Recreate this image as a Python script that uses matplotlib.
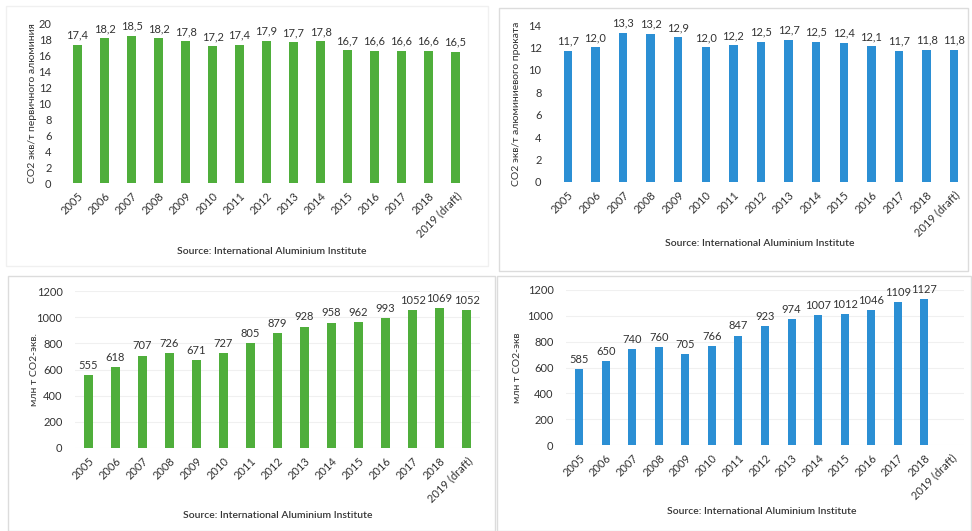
import matplotlib
matplotlib.use("Agg")
import matplotlib.pyplot as plt
from matplotlib.patches import Rectangle

plt.rcParams['font.family'] = ['Lato', 'DejaVu Sans']

years = ['2005', '2006', '2007', '2008', '2009', '2010', '2011', '2012',
         '2013', '2014', '2015', '2016', '2017', '2018', '2019 (draft)']

primary_int = [17.4, 18.2, 18.5, 18.2, 17.8, 17.2, 17.4, 17.9, 17.7, 17.8,
               16.7, 16.6, 16.6, 16.6, 16.5]
rolled_int = [11.7, 12.0, 13.3, 13.2, 12.9, 12.0, 12.2, 12.5, 12.7, 12.5,
              12.4, 12.1, 11.7, 11.8, 11.8]
primary_tot = [555, 618, 707, 726, 671, 727, 805, 879, 928, 958, 962, 993,
               1052, 1069, 1052]
rolled_tot = [585, 650, 740, 760, 705, 766, 847, 923, 974, 1007, 1012, 1046,
              1109, 1127]

green = '#4fae3b'
blue = '#2b8fd4'
source = 'Source: International Aluminium Institute'

W, H = 972, 531
fig = plt.figure(figsize=(W / 100, H / 100), dpi=100)

# panel frames (pixel coords: x0, y0, x1, y1 from top-left)
for (x0, y0, x1, y1), ec in [((6, 6, 488, 266), '#f0f0f0'),
                             ((499, 8, 968, 271), '#dcdcdc'),
                             ((8, 276, 495, 531), '#dcdcdc'),
                             ((497, 276, 971, 531), '#dcdcdc')]:
    fig.patches.append(Rectangle((x0 / W, 1 - y1 / H), (x1 - x0) / W,
                                 (y1 - y0) / H, transform=fig.transFigure,
                                 fill=False, edgecolor=ec, lw=1.0))


def panel(left, right, y0, ytop, vals, ymax, step, color, ylabel, fmt,
          grid, ylab_x, src_x, src_y):
    ax = fig.add_axes([left / W, 1 - y0 / H, (right - left) / W, (y0 - ytop) / H])
    x = list(range(len(vals)))
    ax.bar(x, vals, width=0.3, color=color)
    ax.set_xlim(-0.5, len(years) - 0.5)
    ax.set_ylim(0, ymax)
    ax.set_yticks(range(0, int(ymax) + 1, step))
    ax.set_xticks(range(len(years)))
    ax.set_xticklabels(years, rotation=45, ha='right', rotation_mode='anchor')
    ax.tick_params(length=0, labelsize=8, colors='#333333', pad=5)
    ax.tick_params(axis='y', pad=9)
    for s in ax.spines.values():
        s.set_visible(False)
    if grid:
        ax.grid(axis='y', color='#f0f0f0', lw=0.8)
        ax.set_axisbelow(True)
    for xi, v in zip(x, vals):
        ax.annotate(fmt(v), (xi, v), xytext=(0, 3), textcoords='offset points',
                    ha='center', va='bottom', fontsize=8, color='#333333')
    fig.text(ylab_x / W, 1 - (y0 + ytop) / 2 / H, ylabel, rotation=90,
             ha='center', va='center', fontsize=7.5, color='#333333')
    fig.text(src_x / W, 1 - src_y / H, source, ha='center', va='center',
             fontsize=7.5, color='#333333', fontweight='semibold')
    return ax


comma = lambda v: f'{v:.1f}'.replace('.', ',')
integer = lambda v: f'{v:d}'

panel(64, 469, 183, 24, primary_int, 20, 2, green,
      'CO2 экв/т первичного алюминия', comma, False, 33, 272, 251)
panel(554, 968, 182, 25, rolled_int, 14, 2, blue,
      'CO2 экв/т алюминиевого проката', comma, False, 516, 760, 243)
panel(75, 480, 448, 291, primary_tot, 1200, 200, green,
      'млн т CO2-экв.', integer, True, 34, 278, 515)
panel(566, 964, 445, 290, rolled_tot, 1200, 200, blue,
      'млн т CO2-экв', integer, True, 518, 762, 512)

fig.savefig('out.png', dpi=100)
